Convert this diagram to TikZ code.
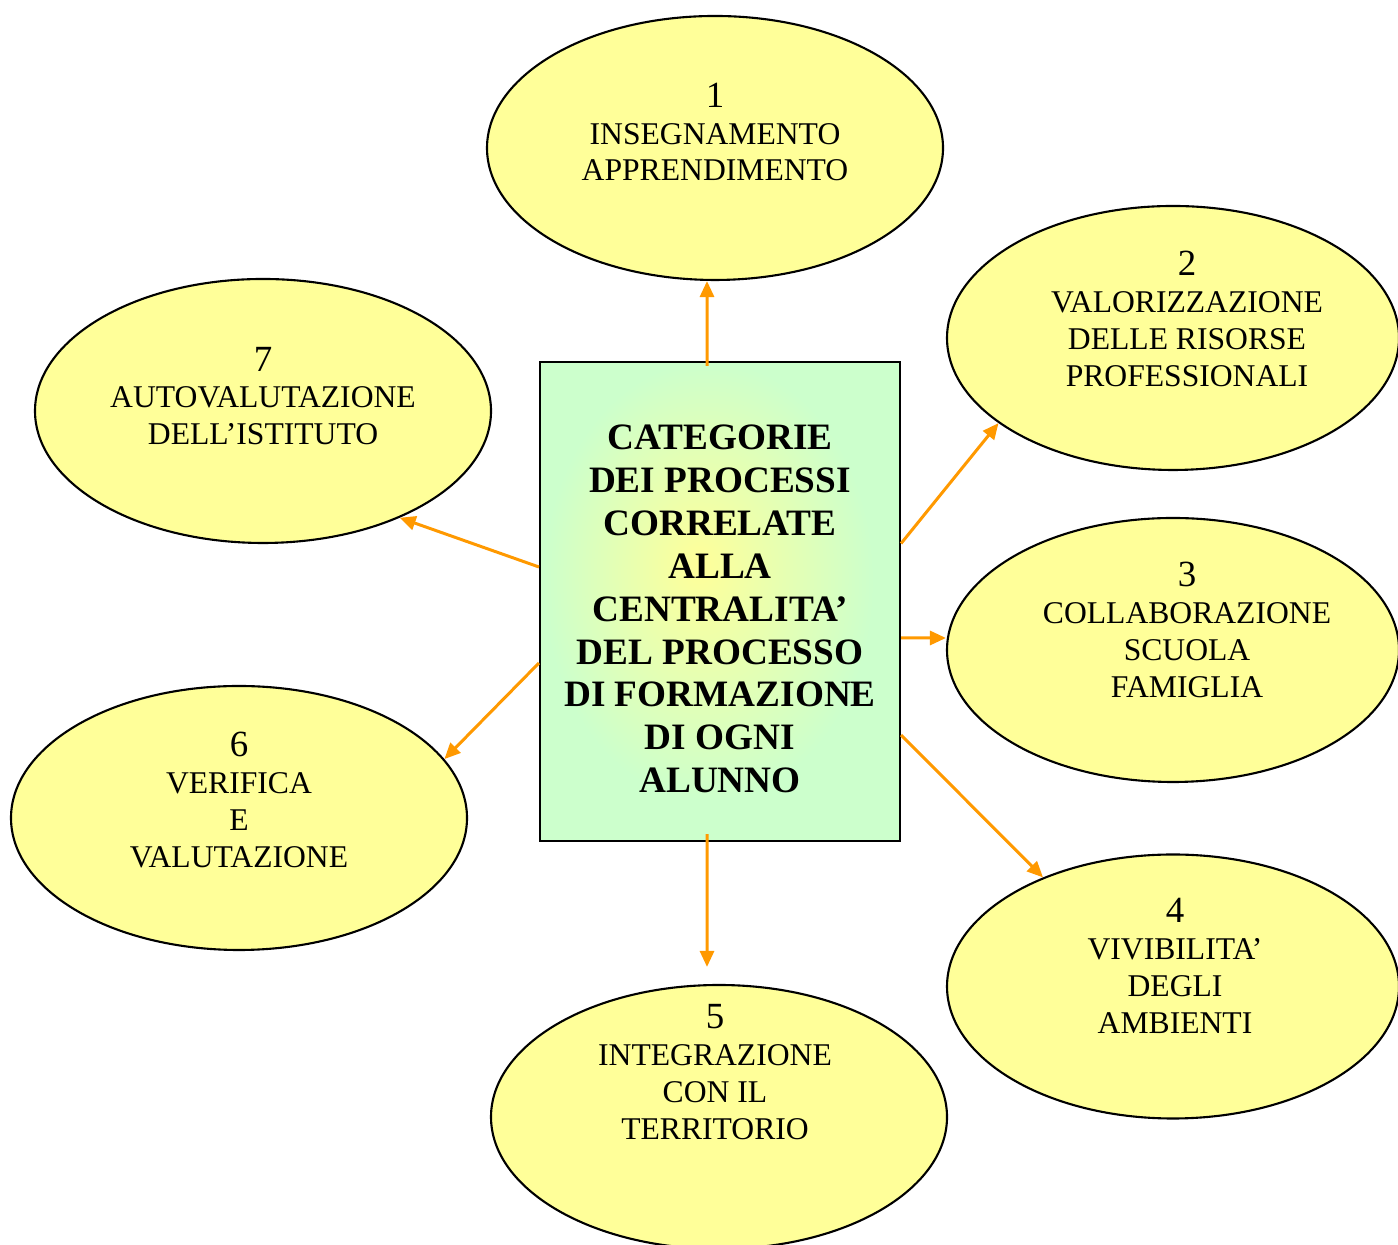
\documentclass[tikz,border=0pt]{standalone}
\usepackage{fontspec}
\setmainfont{Liberation Serif}
\usetikzlibrary{shapes.geometric,arrows.meta}
\definecolor{pale}{HTML}{FFFF99}
\definecolor{mint}{HTML}{CCFFCC}
\definecolor{arrorange}{HTML}{FF9900}
\pgfdeclareradialshading{glow}{\pgfpoint{-3bp}{4bp}}{color(0bp)=(pale); color(8bp)=(pale!65!mint); color(23bp)=(mint); color(50bp)=(mint)}
\begin{document}
\begin{tikzpicture}[
  blob/.style={ellipse, draw=black, line width=0.6pt, fill=pale, minimum width=4.56cm, minimum height=2.64cm, inner sep=0pt},
  txt/.style={align=center, inner sep=0pt, font=\fontsize{9}{10.5}\selectfont},
  conn/.style={-{Triangle[length=1.6mm,width=1.4mm]}, arrorange, line width=0.85pt}]
\clip (0,0) rectangle (13.98,12.45);
\node[rectangle, draw=black, line width=0.6pt, shading=glow, minimum width=3.6cm, minimum height=4.79cm] (box) at (7.20,6.435) {};
\node[align=center, inner sep=0pt, font=\bfseries\fontsize{10.6}{12.2}\selectfont] (title) at (7.20,6.36) {CATEGORIE\\DEI PROCESSI\\CORRELATE\\ALLA\\CENTRALITA’\\DEL PROCESSO\\DI FORMAZIONE\\DI OGNI\\ALUNNO};
% the seven categories
\node[blob] (cat1) at (7.15,10.97) {};
\node[blob, minimum width=4.52cm] (cat2) at (11.73,9.07) {};
\node[blob, minimum width=4.52cm] (cat3) at (11.73,5.95) {};
\node[blob, minimum width=4.52cm] (cat4) at (11.73,2.585) {};
\node[blob] (cat5) at (7.19,1.28) {};
\node[blob] (cat6) at (2.39,4.27) {};
\node[blob] (cat7) at (2.63,8.34) {};
\node[txt] (lab1) at ([yshift=1.6mm]cat1) {{\fontsize{10.5}{10.5}\selectfont 1}\\INSEGNAMENTO\\APPRENDIMENTO};
\node[txt] (lab2) at ([xshift=1.4mm,yshift=1.9mm]cat2) {{\fontsize{10.5}{10.5}\selectfont 2}\\VALORIZZAZIONE\\DELLE RISORSE\\PROFESSIONALI};
\node[txt] (lab3) at ([xshift=1.4mm,yshift=2.0mm]cat3) {{\fontsize{10.5}{10.5}\selectfont 3}\\COLLABORAZIONE\\SCUOLA\\FAMIGLIA};
\node[txt] (lab4) at ([xshift=0.2mm,yshift=2.05mm]cat4) {{\fontsize{10.5}{10.5}\selectfont 4}\\VIVIBILITA’\\DEGLI\\AMBIENTI};
\node[txt] (lab5) at ([xshift=-0.4mm,yshift=4.5mm]cat5) {{\fontsize{10.5}{10.5}\selectfont 5}\\INTEGRAZIONE\\CON IL\\TERRITORIO};
\node[txt] (lab6) at ([yshift=1.8mm]cat6) {{\fontsize{10.5}{10.5}\selectfont 6}\\VERIFICA\\E\\VALUTAZIONE};
\node[txt] (lab7) at ([yshift=1.5mm]cat7) {{\fontsize{10.5}{10.5}\selectfont 7}\\AUTOVALUTAZIONE\\DELL’ISTITUTO};
% arrows out of the box
\draw[conn] ([xshift=-1.3mm,yshift=-0.5mm]box.north) -- ([xshift=-0.8mm]cat1.south);
\draw[conn] ([yshift=5.8mm]box.east) -- (cat2.206);
\draw[conn] ([yshift=-3.65mm]box.east) -- ([yshift=1.2mm]cat3.west);
\draw[conn] ([yshift=-13.35mm]box.east) -- (cat4.140);
\draw[conn] ([xshift=-1.3mm,yshift=0.8mm]box.south) -- ([xshift=-1.2mm,yshift=1.7mm]cat5.north);
\draw[conn] ([yshift=-6.15mm]box.west) -- (cat6.16);
\draw[conn] ([yshift=3.45mm]box.west) -- (cat7.322);
\end{tikzpicture}
\end{document}
